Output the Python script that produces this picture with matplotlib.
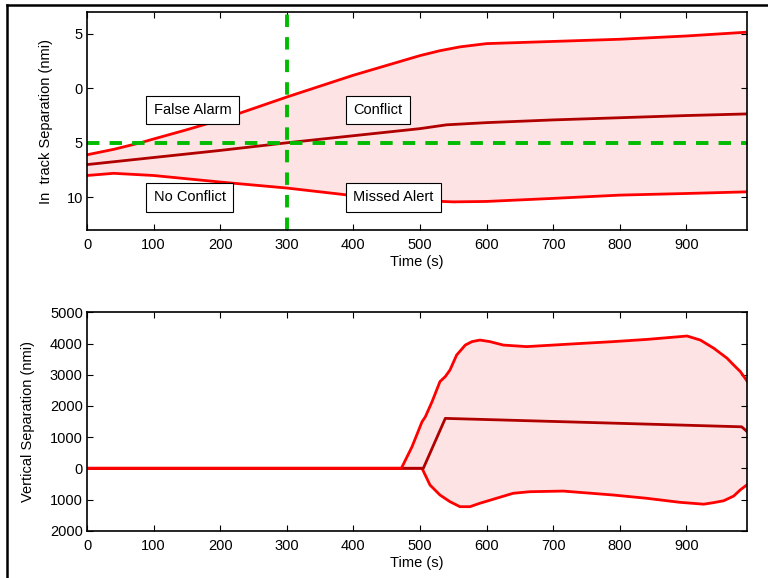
import numpy as np
import matplotlib
matplotlib.use('Agg')
import matplotlib.pyplot as plt
from matplotlib.lines import Line2D

plt.rcParams['font.family'] = ['Liberation Sans', 'DejaVu Sans']
plt.rcParams['font.size'] = 10.5

# In-track separation (top panel), y axis is inverted
t_upper = [0, 40, 80, 100, 150, 200, 250, 300, 350, 400, 450, 500, 530, 560, 600, 700, 800, 900, 991]
intrack_upper = [6.1, 5.6, 5.0, 4.65, 3.8, 2.9, 1.85, 0.8, -0.2, -1.2, -2.1, -3.0, -3.45, -3.8, -4.1, -4.3, -4.5, -4.8, -5.15]
t_mid = [0, 100, 200, 300, 400, 500, 540, 600, 700, 800, 900, 991]
intrack_mid = [7.0, 6.35, 5.7, 5.0, 4.35, 3.7, 3.35, 3.15, 2.9, 2.7, 2.5, 2.35]
t_lower = [0, 40, 100, 200, 300, 400, 500, 550, 600, 700, 800, 900, 991]
intrack_lower = [8.0, 7.8, 8.0, 8.6, 9.15, 9.85, 10.3, 10.42, 10.38, 10.1, 9.8, 9.65, 9.5]

# Vertical separation (bottom panel)
tv_upper = [0, 472, 488, 503, 508, 518, 530, 538, 545, 555, 568, 578, 590, 605, 625, 660,
            700, 740, 790, 840, 890, 901, 921, 941, 961, 971, 981, 991]
vert_upper = [0, 0, 690, 1490, 1650, 2130, 2780, 2940, 3150, 3630, 3950, 4060, 4110, 4060, 3950, 3900,
              3950, 4000, 4060, 4130, 4220, 4240, 4110, 3850, 3530, 3310, 3100, 2800]
tv_mid = [0, 505, 538, 983, 991]
vert_mid = [0, 0, 1600, 1330, 1180]
tv_lower = [0, 503, 515, 530, 545, 560, 575, 590, 615, 640, 665, 715, 790, 840, 890, 926,
            941, 956, 971, 981, 991]
vert_lower = [0, 0, -535, -856, -1070, -1230, -1230, -1120, -960, -800, -750, -730, -856, -960,
              -1090, -1150, -1100, -1040, -890, -690, -530]

red = '#ff0000'
dark = '#b00000'
pink = '#fde3e3'
green = '#00bb00'

fig = plt.figure(figsize=(7.68, 5.78), dpi=100)

# frame lines (cropped box)
fig.add_artist(Line2D([7/768, 1], [1-5/578, 1-5/578], transform=fig.transFigure, color='black', lw=1.8))
fig.add_artist(Line2D([7/768, 7/768], [0, 1-5/578], transform=fig.transFigure, color='black', lw=1.8))

# --- top panel ---
ax1 = fig.add_axes([87/768, 1-230/578, 660/768, 218/578])
tt = np.linspace(0, 991, 400)
up_i = np.interp(tt, t_upper, intrack_upper)
lo_i = np.interp(tt, t_lower, intrack_lower)
ax1.fill_between(tt, up_i, lo_i, color=pink, lw=0)
ax1.plot(t_lower, intrack_lower, color=red, lw=2.0)
ax1.plot(t_mid, intrack_mid, color=dark, lw=2.0)
ax1.plot(t_upper, intrack_upper, color=red, lw=2.0)
ax1.axvline(300, color=green, lw=2.8, ls=(0, (3.2, 2.6)))
ax1.axhline(5, color=green, lw=2.8, ls=(0, (3.2, 2.6)))

box = dict(boxstyle='square,pad=0.5', fc='white', ec='black', lw=0.8)
ax1.text(100, 2.0, 'False Alarm', ha='left', va='center', bbox=box)
ax1.text(400, 2.0, 'Conflict', ha='left', va='center', bbox=box)
ax1.text(100, 10.0, 'No Conflict', ha='left', va='center', bbox=box)
ax1.text(400, 10.0, 'Missed Alert', ha='left', va='center', bbox=box)

ax1.set_xlim(0, 991)
ax1.set_ylim(13, -7)
ax1.set_yticks([-5, 0, 5, 10])
ax1.set_yticklabels(['5', '0', '5', '10'])
ax1.set_xticks(range(0, 1000, 100))
ax1.set_xlabel('Time (s)', labelpad=2)
ax1.set_ylabel('In  track Separation (nmi)', labelpad=10)

# --- bottom panel ---
ax2 = fig.add_axes([87/768, 1-530.7/578, 660/768, 218.4/578])
up_v = np.interp(tt, tv_upper, vert_upper)
lo_v = np.interp(tt, tv_lower, vert_lower)
ax2.fill_between(tt, up_v, lo_v, color=pink, lw=0)
ax2.plot(tv_lower, vert_lower, color=red, lw=2.0)
ax2.plot(tv_mid, vert_mid, color=dark, lw=2.0)
ax2.plot(tv_upper, vert_upper, color=red, lw=2.0)

ax2.set_xlim(0, 991)
ax2.set_ylim(-2000, 5000)
yt = list(range(-2000, 5001, 1000))
ax2.set_yticks(yt)
ax2.set_yticklabels([str(abs(v)) for v in yt])
ax2.set_xticks(range(0, 1000, 100))
ax2.set_xlabel('Time (s)', labelpad=2)
ax2.set_ylabel('Vertical Separation (nmi)', labelpad=11)

for ax in (ax1, ax2):
    ax.tick_params(direction='in', top=True, right=True, length=4, width=0.8, labelsize=10.5)
    ax.tick_params(axis='x', pad=6)
    ax.tick_params(axis='y', pad=3)
    for s in ax.spines.values():
        s.set_linewidth(1.2)

fig.savefig('out.png', dpi=100)
